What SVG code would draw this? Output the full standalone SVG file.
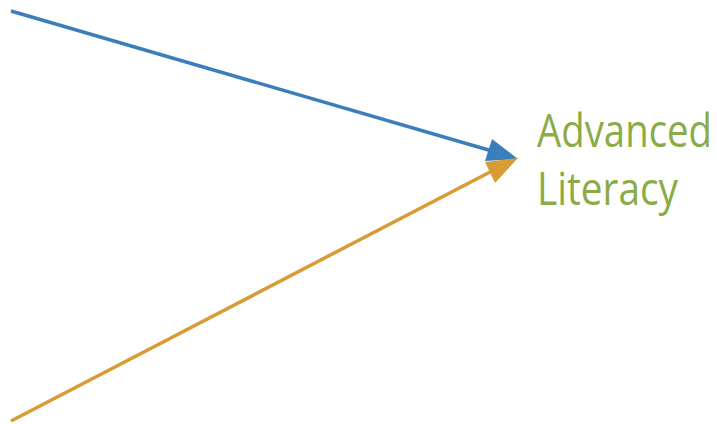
<svg xmlns="http://www.w3.org/2000/svg" width="717" height="424" viewBox="0 0 717 424">
<style>
.lbl{font-family:"Open Sans","Noto Sans",sans-serif;font-weight:400;font-size:46px;fill:#8aab45}
</style>
<rect width="717" height="424" fill="#ffffff"/>
<g id="connectors">
<line x1="11" y1="11" x2="492" y2="151" stroke="#3a7fbb" stroke-width="3.5"/>
<polygon points="518,159 492,139 485,161" fill="#3a7fbb"/>
<line x1="11" y1="421" x2="492" y2="171" stroke="#d99b36" stroke-width="3.5"/>
<polygon points="518,158 485,162 495,183" fill="#d99b36"/>
</g>
<g id="advanced-literacy">
<text class="lbl" x="537" y="147" textLength="175" lengthAdjust="spacingAndGlyphs">Advanced</text>
<text class="lbl" x="537" y="205" textLength="141" lengthAdjust="spacingAndGlyphs">Literacy</text>
</g>
</svg>
